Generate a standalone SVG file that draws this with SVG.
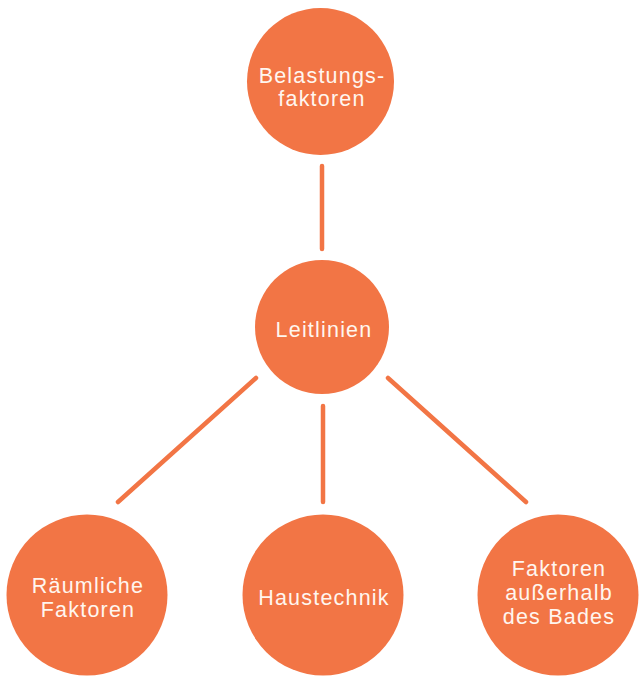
<svg xmlns="http://www.w3.org/2000/svg" width="639" height="679" viewBox="0 0 639 679">
<style>
.n{fill:#F27545}
.t{fill:#FFF6EF;font-family:"Liberation Sans",Arial,sans-serif;font-size:21.5px;letter-spacing:1.2px;text-anchor:middle}
.c line{stroke:#F27545;stroke-width:4.5;stroke-linecap:round}
</style>
<rect width="639" height="679" fill="#fff"/>
<g class="c" id="connectors">
<line x1="322" y1="166" x2="322" y2="249"/>
<line x1="256" y1="378" x2="118" y2="502"/>
<line x1="323" y1="406" x2="323" y2="502"/>
<line x1="388" y1="378" x2="526" y2="502"/>
</g>
<g id="belastungsfaktoren">
<circle class="n" cx="320.5" cy="81.5" r="73.5"/>
<text class="t" x="322" y="83">Belastungs-</text>
<text class="t" x="322" y="106">faktoren</text>
</g>
<g id="leitlinien">
<circle class="n" cx="322" cy="327" r="67"/>
<text class="t" x="324" y="337">Leitlinien</text>
</g>
<g id="raeumliche">
<circle class="n" cx="87" cy="595" r="80.5"/>
<text class="t" x="88" y="593">Räumliche</text>
<text class="t" x="88" y="617">Faktoren</text>
</g>
<g id="haustechnik">
<circle class="n" cx="323" cy="595" r="80.5"/>
<text class="t" x="324" y="605">Haustechnik</text>
</g>
<g id="ausserhalb">
<circle class="n" cx="558" cy="595" r="80.5"/>
<text class="t" x="559" y="576">Faktoren</text>
<text class="t" x="559" y="600">außerhalb</text>
<text class="t" x="559" y="624">des Bades</text>
</g>
</svg>
